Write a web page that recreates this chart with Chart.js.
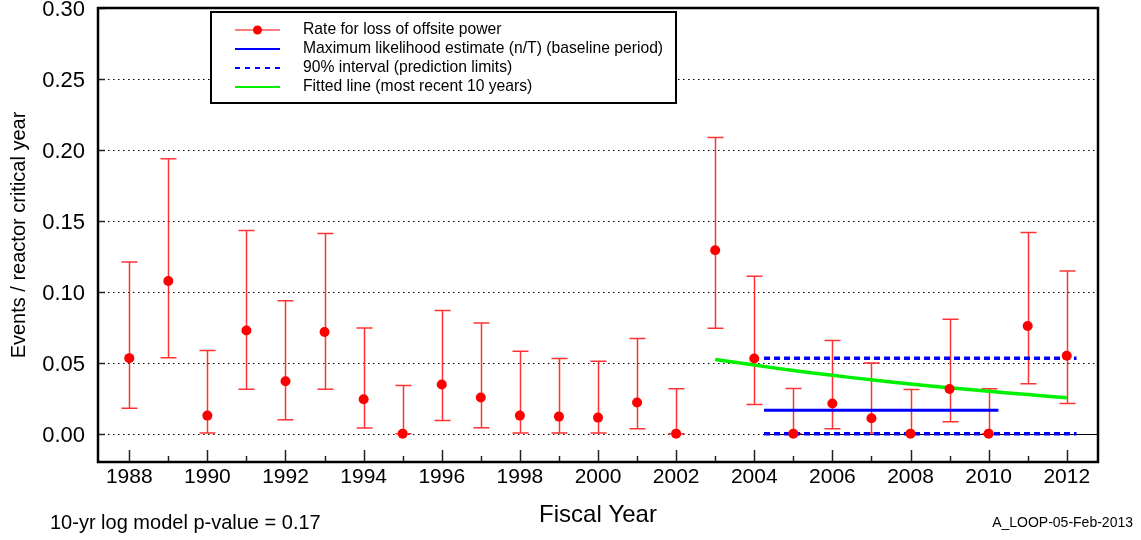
<!DOCTYPE html>
<html>
<head>
<meta charset="utf-8">
<script src="https://cdn.jsdelivr.net/npm/chart.js@4.4.1/dist/chart.umd.min.js"></script>
<style>
  html, body { margin: 0; padding: 0; background: #fff; }
  #wrap { position: relative; width: 1141px; height: 540px; font-family: "Liberation Sans", Arial, sans-serif; }
  #lossChart { position: absolute; left: 0; top: 0; }
  .note { position: absolute; color: #000; line-height: 1; white-space: nowrap; }
</style>
</head>
<body>
<div id="wrap">
  <canvas id="lossChart" width="1141" height="540"></canvas>
  <div class="note" id="pvalue" style="left:50px; top:512px; font-size:20px;">10-yr log model p-value = 0.17</div>
  <div class="note" id="stamp" style="right:8px; top:515px; font-size:14px;">A_LOOP-05-Feb-2013</div>
</div>
<script>
const years = [1988, 1989, 1990, 1991, 1992, 1993, 1994, 1995, 1996, 1997, 1998, 1999, 2000,
               2001, 2002, 2003, 2004, 2005, 2006, 2007, 2008, 2009, 2010, 2011, 2012];
const rates = [0.0532, 0.1076, 0.0127, 0.0727, 0.0369, 0.0716, 0.0242, 0.0, 0.0346, 0.0254, 0.0127, 0.012, 0.0113,
               0.022, 0.0, 0.1292, 0.053, 0.0, 0.0212, 0.0108, 0.0, 0.0315, 0.0, 0.0758, 0.0549];
const upperLimits = [0.121, 0.1937, 0.0586, 0.1431, 0.0937, 0.141, 0.0744, 0.0339, 0.0867, 0.078, 0.058, 0.053, 0.051,
                     0.067, 0.0317, 0.2088, 0.1109, 0.0318, 0.0657, 0.0497, 0.0311, 0.0807, 0.0316, 0.1417, 0.1146];
const lowerLimits = [0.0179, 0.0534, 0.0005, 0.0313, 0.0097, 0.0313, 0.004, 0.0, 0.0092, 0.0042, 0.0005, 0.0005, 0.0005,
                     0.0035, 0.0, 0.0742, 0.0205, 0.0, 0.0035, 0.0004, 0.0, 0.0083, 0.0, 0.0351, 0.0212];

// baseline period estimate and prediction limits
const mleRange = [2004.25, 2010.25];
const mleValue = 0.0165;
const predRange = [2004.25, 2012.25];
const predLower = 0.0;
const predUpper = 0.0532;

// fitted trend, most recent 10 years
const fitYears = [2003, 2004, 2005, 2006, 2007, 2008, 2009, 2010, 2011, 2012];
const fitValues = [0.0523, 0.0483, 0.0445, 0.0411, 0.0379, 0.035, 0.0323, 0.0298, 0.0275, 0.0253];

const yTicks = [0, 0.05, 0.10, 0.15, 0.20, 0.25, 0.30];
const xLabelYears = years.filter(y => y % 2 === 0);

const FONT = "'Liberation Sans', Arial, sans-serif";
const RED = "#ff0000";
const BAR_RED = "rgba(255,0,0,0.8)";
const BLUE = "#0000ff";
const GREEN = "#00f000";

const pairs = (xs, ys) => xs.map((x, i) => ({ x, y: ys[i] }));

// grid, error bars, frame, inner ticks and boxed legend
const decorations = {
  id: "decorations",
  beforeDatasetsDraw(chart) {
    const { ctx, chartArea: a, scales: { x, y } } = chart;
    ctx.save();
    // dotted horizontal grid
    ctx.strokeStyle = "#000";
    ctx.lineWidth = 1;
    ctx.setLineDash([1.5, 3.5]);
    yTicks.forEach(v => {
      if (v >= 0.3) return;
      const py = Math.round(y.getPixelForValue(v)) + 0.5;
      ctx.beginPath();
      ctx.moveTo(a.left, py);
      ctx.lineTo(a.right, py);
      ctx.stroke();
    });
    ctx.setLineDash([]);
    // solid zero line under the prediction interval
    const zy = Math.round(y.getPixelForValue(0)) + 0.5;
    ctx.beginPath();
    ctx.moveTo(x.getPixelForValue(predRange[0]), zy);
    ctx.lineTo(a.right, zy);
    ctx.stroke();
    // error bars
    ctx.strokeStyle = BAR_RED;
    ctx.lineWidth = 1.5;
    years.forEach((yr, i) => {
      const px = Math.round(x.getPixelForValue(yr)) + 0.5;
      const top = y.getPixelForValue(upperLimits[i]);
      const bot = y.getPixelForValue(lowerLimits[i]);
      ctx.beginPath();
      ctx.moveTo(px, top);
      ctx.lineTo(px, bot);
      ctx.moveTo(px - 8, top);
      ctx.lineTo(px + 8, top);
      ctx.moveTo(px - 8, bot);
      ctx.lineTo(px + 8, bot);
      ctx.stroke();
    });
    ctx.restore();
  },
  afterDatasetsDraw(chart) {
    const { ctx, chartArea: a, scales: { x, y } } = chart;
    ctx.save();
    // inward ticks
    ctx.strokeStyle = "#222";
    ctx.lineWidth = 1.5;
    years.forEach(yr => {
      const px = Math.round(x.getPixelForValue(yr)) + 0.5;
      const len = yr % 2 === 0 ? 12 : 6;
      ctx.beginPath();
      ctx.moveTo(px, a.bottom);
      ctx.lineTo(px, a.bottom - len);
      ctx.stroke();
    });
    yTicks.forEach(v => {
      const py = Math.round(y.getPixelForValue(v)) + 0.5;
      ctx.beginPath();
      ctx.moveTo(a.left, py);
      ctx.lineTo(a.left + 7, py);
      ctx.stroke();
    });
    // frame
    ctx.strokeStyle = "#000";
    ctx.lineWidth = 2.5;
    ctx.strokeRect(a.left, a.top, a.right - a.left, a.bottom - a.top);

    // legend box
    const bx = 211, by = 12, bw = 465, bh = 91;
    ctx.fillStyle = "#fff";
    ctx.fillRect(bx, by, bw, bh);
    ctx.lineWidth = 2;
    ctx.strokeRect(bx, by, bw, bh);
    const rows = chart.data.datasets.filter(d => !d.noLegend);
    ctx.font = "15.7px " + FONT;
    ctx.textBaseline = "middle";
    rows.forEach((d, i) => {
      const ry = 30 + i * 19;
      ctx.strokeStyle = d.legendColor;
      ctx.lineWidth = d.legendWidth;
      ctx.setLineDash(d.legendDash || []);
      ctx.beginPath();
      ctx.moveTo(235, ry);
      ctx.lineTo(280, ry);
      ctx.stroke();
      ctx.setLineDash([]);
      if (d.legendDot) {
        ctx.fillStyle = RED;
        ctx.beginPath();
        ctx.arc(257.5, ry, 4.5, 0, Math.PI * 2);
        ctx.fill();
      }
      ctx.fillStyle = "#000";
      ctx.fillText(d.label, 303, ry);
    });
    ctx.restore();
  }
};

new Chart(document.getElementById("lossChart"), {
  type: "scatter",
  data: {
    datasets: [
      {
        label: "Rate for loss of offsite power",
        data: pairs(years, rates),
        showLine: false,
        pointRadius: 5,
        pointBackgroundColor: RED,
        pointBorderWidth: 0,
        legendColor: "#ff5050", legendWidth: 1.5, legendDot: true
      },
      {
        label: "Maximum likelihood estimate (n/T) (baseline period)",
        data: pairs(mleRange, [mleValue, mleValue]),
        showLine: true,
        borderColor: BLUE,
        borderWidth: 3,
        pointRadius: 0,
        legendColor: BLUE, legendWidth: 2
      },
      {
        label: "90% interval (prediction limits)",
        data: pairs(predRange, [predUpper, predUpper]),
        showLine: true,
        borderColor: BLUE,
        borderWidth: 3.5,
        borderDash: [6, 4],
        pointRadius: 0,
        legendColor: BLUE, legendWidth: 2, legendDash: [5, 5]
      },
      {
        label: "90% interval (prediction limits)",
        data: pairs(predRange, [predLower, predLower]),
        showLine: true,
        borderColor: BLUE,
        borderWidth: 3.5,
        borderDash: [6, 4],
        pointRadius: 0,
        noLegend: true
      },
      {
        label: "Fitted line (most recent 10 years)",
        data: pairs(fitYears, fitValues),
        showLine: true,
        borderColor: GREEN,
        borderWidth: 3.5,
        tension: 0.4,
        pointRadius: 0,
        legendColor: GREEN, legendWidth: 2
      }
    ]
  },
  options: {
    responsive: false,
    animation: false,
    layout: { padding: { left: 0, right: 43, top: 8, bottom: 0 } },
    plugins: {
      legend: { display: false },
      tooltip: { enabled: false }
    },
    scales: {
      x: {
        type: "linear",
        min: 1987.2,
        max: 2012.8,
        grid: { display: false, drawTicks: false },
        border: { display: false },
        afterBuildTicks: s => { s.ticks = xLabelYears.map(v => ({ value: v })); },
        afterFit: s => { s.height = 78; s.paddingLeft = 0; s.paddingRight = 0; },
        ticks: {
          autoSkip: false,
          maxRotation: 0,
          padding: 3,
          color: "#000",
          font: { family: FONT, size: 21 },
          callback: v => String(v)
        },
        title: {
          display: true,
          text: "Fiscal Year",
          color: "#000",
          font: { family: FONT, size: 24 },
          padding: { top: 0, bottom: 10 }
        }
      },
      y: {
        min: -0.02,
        max: 0.30,
        grid: { display: false, drawTicks: false },
        border: { display: false },
        afterBuildTicks: s => { s.ticks = yTicks.map(v => ({ value: v })); },
        afterFit: s => { s.width = 98; s.paddingTop = 0; s.paddingBottom = 0; },
        ticks: {
          padding: 13,
          labelOffset: 2,
          color: "#000",
          font: { family: FONT, size: 22 },
          callback: v => v.toFixed(2)
        },
        title: {
          display: true,
          text: "Events / reactor critical year",
          color: "#000",
          font: { family: FONT, size: 20 },
          padding: { top: 7, bottom: 0 }
        }
      }
    }
  },
  plugins: [decorations]
});
</script>
</body>
</html>
